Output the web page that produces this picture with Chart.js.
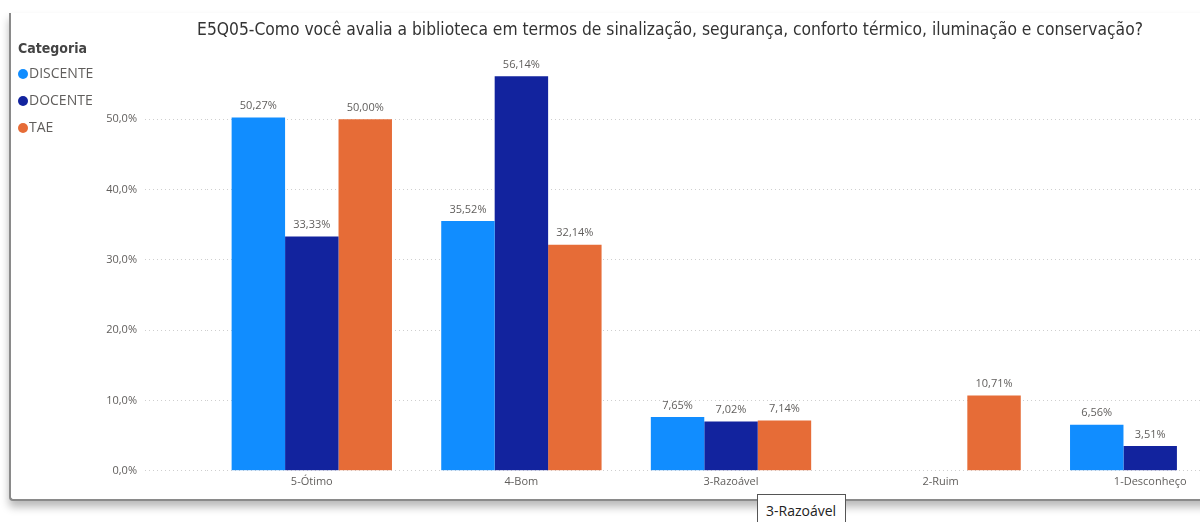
<!DOCTYPE html>
<html>
<head>
<meta charset="utf-8">
<script src="https://cdn.jsdelivr.net/npm/chart.js@4/dist/chart.umd.min.js"></script>
<style>
  html, body { margin: 0; padding: 0; background: #fff; }
  body { width: 1200px; height: 522px; overflow: hidden; position: relative; font-family: "Open Sans", sans-serif; }
  #frame { position: absolute; left: 9px; top: 13px; width: 1260px; height: 486px;
    border-left: 2px solid #8a8a8a; border-bottom: 2px solid #8a8a8a; border-bottom-left-radius: 4px;
    box-shadow: 0 6px 8px rgba(0,0,0,0.28); background: #fff; }
  #wrap { position: absolute; left: 0; top: 0; width: 1260px; height: 499px; }
  #title { position: absolute; left: 0; top: 19px; width: 1340px; text-align: center;
    font-family: "DejaVu Sans Condensed", "DejaVu Sans", sans-serif; font-size: 17.3px; color: #333; white-space: nowrap; }
  #legend { position: absolute; left: 18px; top: 40px; font-size: 14px; color: #605e5c; }
  #legend .head { font-family: "DejaVu Sans Condensed", sans-serif; font-weight: bold; color: #444; font-size: 14px; height: 25px; }
  #legend .item { height: 27px; line-height: 16px; white-space: nowrap; }
  #legend .dot { display: inline-block; width: 10px; height: 10px; border-radius: 50%; margin-right: 1px; vertical-align: -1px; }
  #tip { position: absolute; left: 757px; top: 494px; width: 89px; height: 34px; border: 1px solid #555;
    background: #fff; font-family: "Open Sans", sans-serif; font-size: 14px; color: #222; padding: 6px 0 0 8px; box-sizing: border-box; }
</style>
</head>
<body>
<div id="frame"></div>
<div id="wrap"><canvas id="myChart"></canvas></div>
<div id="title">E5Q05-Como você avalia a biblioteca em termos de sinalização, segurança, conforto térmico, iluminação e conservação?</div>
<div id="legend"></div>
<div id="tip">3-Razoável</div>
<script>
const categories = ["5-Ótimo", "4-Bom", "3-Razoável", "2-Ruim", "1-Desconheço"]
const discente = [50.27, 35.52, 7.65, null, 6.56]
const docente = [33.33, 56.14, 7.02, null, 3.51]
const tae = [50.00, 32.14, 7.14, 10.71, null]
const seriesNames = ["DISCENTE", "DOCENTE", "TAE"]
const seriesColors = ["#118DFF", "#12239E", "#E66C37"]
const yTicks = [0, 10, 20, 30, 40, 50]

const legendDiv = document.querySelector("#legend")
legendDiv.innerHTML = '<div class="head">Categoria</div>'
seriesNames.forEach((name, i) => {
  const item = document.createElement("div")
  item.className = "item"
  item.innerHTML = '<span class="dot" style="background:' + seriesColors[i] + '"></span>' + name
  legendDiv.appendChild(item)
})

function fmt(v, digits) {
  return v.toFixed(digits).replace(".", ",") + "%"
}

// value labels above bars
const barLabels = {
  id: "barLabels",
  afterDatasetsDraw(chart) {
    const ctx = chart.ctx
    ctx.save()
    ctx.font = "11px 'Open Sans', sans-serif"
    ctx.fillStyle = "#605e5c"
    ctx.textAlign = "center"
    ctx.textBaseline = "bottom"
    chart.data.datasets.forEach((ds, i) => {
      chart.getDatasetMeta(i).data.forEach((bar, j) => {
        const v = ds.data[j]
        if (v == null) return
        ctx.fillText(fmt(v, 2), bar.x, bar.y - 6)
      })
    })
    ctx.restore()
  }
}

const ctx = document.getElementById("myChart").getContext("2d")
new Chart(ctx, {
  type: "bar",
  data: {
    labels: categories,
    datasets: [
      { label: seriesNames[0], data: discente, backgroundColor: seriesColors[0] },
      { label: seriesNames[1], data: docente, backgroundColor: seriesColors[1] },
      { label: seriesNames[2], data: tae, backgroundColor: seriesColors[2] },
    ],
  },
  options: {
    responsive: true,
    maintainAspectRatio: false,
    animation: false,
    layout: { padding: { left: 95, top: 49, right: 5, bottom: 7 } },
    datasets: { bar: { categoryPercentage: 0.765, barPercentage: 1.0 } },
    plugins: { legend: { display: false }, tooltip: { enabled: false } },
    scales: {
      x: {
        grid: { display: false, drawTicks: false, tickLength: 0 },
        border: { display: false },
        ticks: { color: "#605e5c", font: { family: "'Open Sans', sans-serif", size: 11 }, padding: 4, maxRotation: 0 },
      },
      y: {
        min: 0,
        max: 60,
        afterBuildTicks: scale => { scale.ticks = yTicks.map(v => ({ value: v })) },
        afterFit: scale => { scale.width = 112 },
        border: { display: false, dash: [1, 3] },
        grid: {
          color: "#cfcfcf",
          tickColor: "#cfcfcf",
          tickLength: 62,
          tickBorderDash: [1, 3],
        },
        ticks: {
          color: "#605e5c",
          font: { family: "'Open Sans', sans-serif", size: 11 },
          padding: 8,
          callback: v => fmt(v, 1),
        },
      },
    },
  },
  plugins: [barLabels],
})
</script>
</body>
</html>
